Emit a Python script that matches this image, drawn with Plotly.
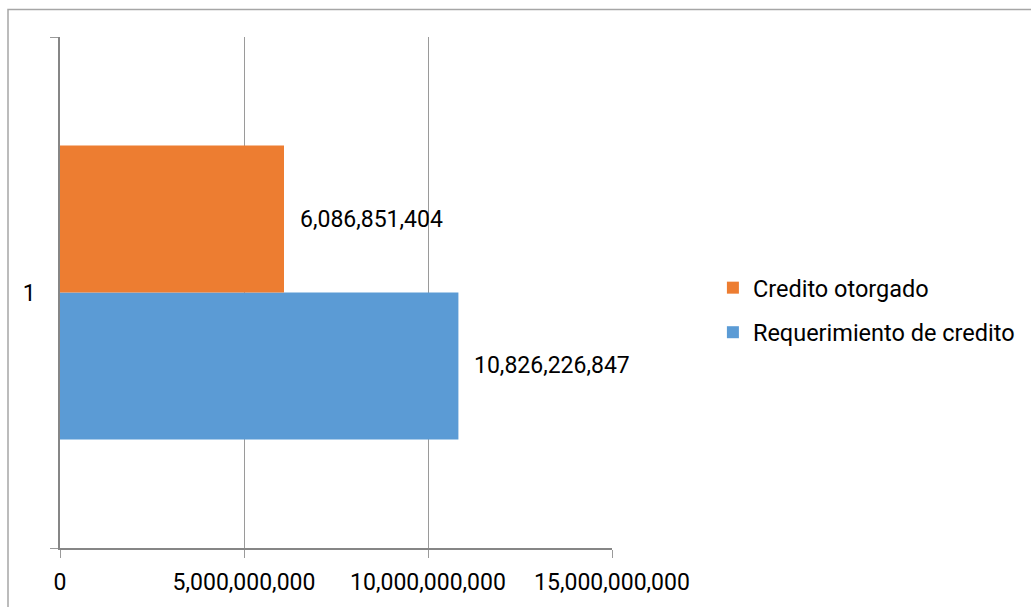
import plotly.graph_objects as go

categories = [1]
series_names = ["Requerimiento de credito", "Credito otorgado"]
requerimiento = [10826226847]
otorgado = [6086851404]
x_tickvals = [0, 5000000000, 10000000000, 15000000000]
x_ticktext = ["0", "5,000,000,000", "10,000,000,000", "15,000,000,000"]

colors = ["#5B9BD5", "#ED7D31"]
series_values = [requerimiento, otorgado]
legend_ranks = [2, 1]
FONT = "Roboto"
FS = 23
bargap = 0.425

fig = go.Figure()
for name, vals, col, rk in zip(series_names, series_values, colors, legend_ranks):
    fig.add_trace(go.Bar(
        y=categories, x=vals, name=name, orientation="h",
        marker=dict(color=col, line=dict(width=0)),
        legendgroup=name, legendrank=rk,
    ))

# value labels placed to the right of each bar
n = len(series_names)
group_w = 1 - bargap
bar_w = group_w / n
annotations = []
for i, vals in enumerate(series_values):
    for c, v in zip(categories, vals):
        yc = c - group_w / 2 + bar_w * (i + 0.5)
        annotations.append(dict(
            x=v, y=yc, xref="x", yref="y", text=f"{v:,}", showarrow=False,
            xanchor="left", yanchor="middle", xshift=14,
            font=dict(family=FONT, size=FS, color="#000000"),
        ))

fig.update_layout(
    width=1031, height=607,
    margin=dict(l=60, r=419, t=37, b=59, autoexpand=False),
    paper_bgcolor="white", plot_bgcolor="white",
    barmode="group", bargap=bargap, bargroupgap=0,
    font=dict(family=FONT, size=FS, color="#000000"),
    showlegend=True,
    legend=dict(
        x=1.1828, y=0.465, xanchor="left", yanchor="middle",
        traceorder="grouped", tracegroupgap=11,
        font=dict(family=FONT, size=23.5, color="#000000"),
        bgcolor="rgba(0,0,0,0)",
    ),
    annotations=annotations,
    shapes=[dict(
        type="rect", xref="paper", yref="paper",
        x0=-0.0942, x1=3, y0=-1, y1=1.0538,
        line=dict(color="#A6A6A6", width=1.5), fillcolor="rgba(0,0,0,0)",
        layer="below",
    )],
)

fig.update_xaxes(
    range=[0, 15000000000], tickvals=x_tickvals, ticktext=x_ticktext,
    showgrid=True, gridcolor="#9A9A9A", gridwidth=1,
    showline=True, linecolor="#868686", linewidth=1.5,
    ticks="outside", ticklen=8, tickcolor="#9A9A9A",
    zeroline=False, ticklabelstandoff=5, automargin=False,
)
fig.update_yaxes(
    range=[0.5, 1.5], tickvals=categories, ticktext=[str(c) for c in categories],
    showgrid=False, showline=True, linecolor="#868686", linewidth=1.5,
    ticks="", ticklabelstandoff=18, zeroline=False, automargin=False,
    minor=dict(tickvals=[0.5, 1.5], ticks="outside", ticklen=8, tickcolor="#9A9A9A", showgrid=False),
)

fig.write_html("out.html")
